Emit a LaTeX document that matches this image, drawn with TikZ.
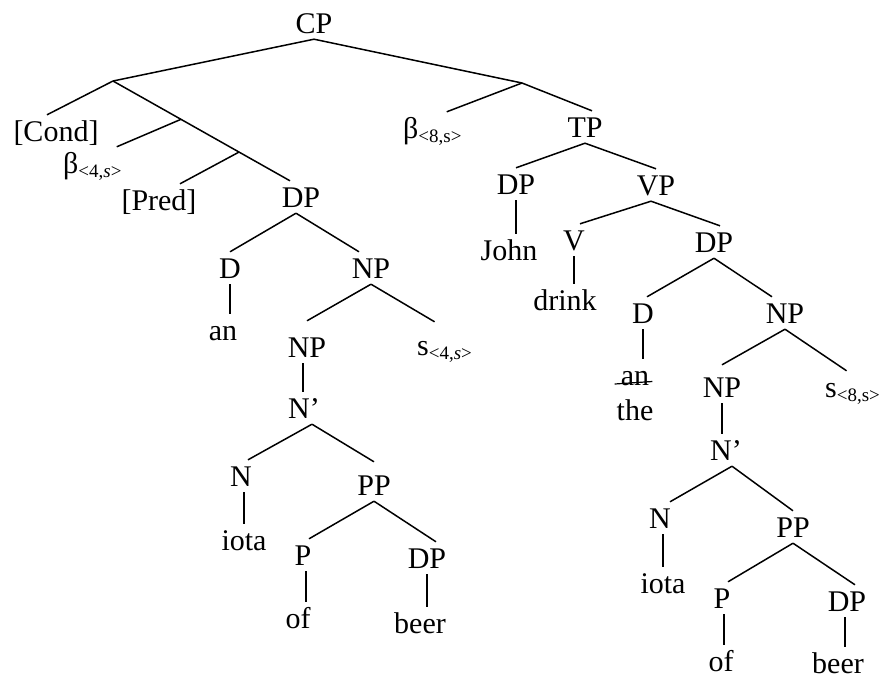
\documentclass[tikz,border=0pt]{standalone}
\usepackage{fontspec}
\setmainfont{Liberation Serif}
\usetikzlibrary{calc}

\begin{document}
\begin{tikzpicture}[x=1pt,y=-1pt,
  cat/.style={anchor=base, inner xsep=0pt, inner ysep=6pt,
    text height=20pt, text depth=0pt, font=\fontsize{30}{32}\selectfont},
  br/.style={line width=1.5pt}]
\def\idx#1{{\fontsize{19}{19}\selectfont\raisebox{-4pt}{#1}}}
\useasboundingbox (0,0) rectangle (885,678);
%
\node[cat] (cp) at (314,33) {CP};
\coordinate (jl) at (113,81);
\coordinate (jr) at (522,83);
\node[cat] (cond) at (56,141) {[Cond]};
\node[cat, anchor=base west] (b4) at (63,173) {β\idx{<4,\textit{s}>}};
\node[cat] (pred) at (159,210) {[Pred]};
\node[cat] (dpl) at (301,207) {DP};
\coordinate (j2) at ($(jl)!0.384!([xshift=-11pt]dpl.north)$);
\coordinate (j3) at ($(jl)!0.712!([xshift=-11pt]dpl.north)$);
\node[cat, anchor=base west] (b8) at (403,138) {β\idx{<8,s>}};
\node[cat] (tp) at (585,137) {TP};
%
\draw[br] (cp.south) -- (jl);
\draw[br] (cp.south) -- (jr);
\draw[br] (jl) -- ([xshift=-9pt]cond.north);
\draw[br] (jl) -- ([xshift=-11pt]dpl.north);
\draw[br] (j2) -- ([xshift=-5pt]b4.north east);
\draw[br] (j3) -- ([xshift=21pt]pred.north);
\draw[br] (jr) -- ([xshift=-15pt]b8.north east);
\draw[br] (jr) -- ([xshift=7pt]tp.north);
% left DP
\node[cat] (dl) at (230,278) {D};
\node[cat] (anl) at (223,340) {an};
\node[cat] (npl) at (371,278) {NP};
\node[cat] (npl2) at (307,357) {NP};
\node[cat, anchor=base west] (s4) at (417,355) {s\idx{<4,\textit{s}>}};
\node[cat] (nbl) at (304,418) {N’};
\node[cat] (nl) at (241,486) {N};
\node[cat] (iotal) at (244,550) {iota};
\node[cat] (ppl) at (374,495) {PP};
\node[cat] (pl) at (303,565) {P};
\node[cat] (ofl) at (298,628) {of};
\node[cat] (dpl2) at (427,568) {DP};
\node[cat] (beerl) at (420,633) {beer};
%
\draw[br] ([xshift=-5pt]dpl.south) -- (dl.north);
\draw[br] ([xshift=-5pt]dpl.south) -- ([xshift=-12pt]npl.north);
\draw[br] (dl.south) -- (dl.south |- anl.north);
\draw[br] (npl.south) -- ([yshift=10pt]npl2.north);
\draw[br] (npl.south) -- ([xshift=-10pt,yshift=7pt]s4.north);
\draw[br] ([xshift=-4pt]npl2.south) -- ([xshift=-4pt]npl2.south |- nbl.north);
\draw[br] ([xshift=8pt]nbl.south) -- ([xshift=7pt]nl.north);
\draw[br] ([xshift=8pt]nbl.south) -- ([yshift=7pt]ppl.north);
\draw[br] ([xshift=3pt]nl.south) -- ([xshift=3pt]nl.south |- iotal.north);
\draw[br] (ppl.south) -- ([xshift=6pt]pl.north);
\draw[br] (ppl.south) -- ([xshift=9pt]dpl2.north);
\draw[br] ([xshift=3pt]pl.south) -- ([xshift=3pt]pl.south |- ofl.north);
\draw[br] (dpl2.south) -- (dpl2.south |- beerl.north);
% TP
\node[cat] (dpj) at (516,194) {DP};
\node[cat] (vp) at (656,195) {VP};
\node[cat] (john) at (509,260) {John};
\node[cat] (v) at (574,250) {V};
\node[cat] (drink) at (565,310) {drink};
\node[cat] (dpr) at (714,252) {DP};
\node[cat] (dr) at (643,323) {D};
\node[cat] (anr) at (635,385) {an};
\node[cat] (the) at (635,420) {the};
\node[cat] (npr) at (785,323) {NP};
\node[cat, anchor=base west] (s8) at (825,397) {s\idx{<8,s>}};
\node[cat] (npr2) at (722,397) {NP};
\node[cat] (nbr) at (726,460) {N’};
\node[cat] (nr) at (660,528) {N};
\node[cat] (iotar) at (663,593) {iota};
\node[cat] (ppr) at (793,537) {PP};
\node[cat] (pr) at (722,608) {P};
\node[cat] (ofr) at (721,671) {of};
\node[cat] (dpr2) at (847,611) {DP};
\node[cat] (beerr) at (838,673) {beer};
%
\draw[br] (tp.south) -- (dpj.north);
\draw[br] (tp.south) -- (vp.north);
\draw[br] (dpj.south) -- (dpj.south |- john.north);
\draw[br] ([xshift=-5pt]vp.south) -- ([xshift=6pt]v.north);
\draw[br] ([xshift=-5pt]vp.south) -- ([xshift=6pt]dpr.north);
\draw[br] (v.south) -- (v.south |- drink.north);
\draw[br] (dpr.south) -- ([xshift=4pt]dr.north);
\draw[br] (dpr.south) -- ([xshift=-13pt]npr.north);
\draw[br] (dr.south) -- (dr.south |- anr.north);
\draw[line width=1.2pt] ([xshift=-6pt,yshift=1pt]anr.base west) -- ([xshift=3pt,yshift=3.5pt]anr.base east);
\draw[br] (npr.south) -- ([yshift=6pt]npr2.north);
\draw[br] (npr.south) -- ([xshift=-6pt]s8.north);
\draw[br] (npr2.south) -- (npr2.south |- nbr.north);
\draw[br] ([xshift=6pt]nbr.south) -- ([xshift=10pt]nr.north);
\draw[br] ([xshift=6pt]nbr.south) -- (ppr.north);
\draw[br] ([xshift=3pt]nr.south) -- ([xshift=3pt]nr.south |- iotar.north);
\draw[br] (ppr.south) -- ([xshift=6pt]pr.north);
\draw[br] (ppr.south) -- ([xshift=8pt]dpr2.north);
\draw[br] ([xshift=2pt]pr.south) -- ([xshift=2pt]pr.south |- ofr.north);
\draw[br] ([xshift=-2pt]dpr2.south) -- ([xshift=-2pt]dpr2.south |- beerr.north);
\end{tikzpicture}
\end{document}
